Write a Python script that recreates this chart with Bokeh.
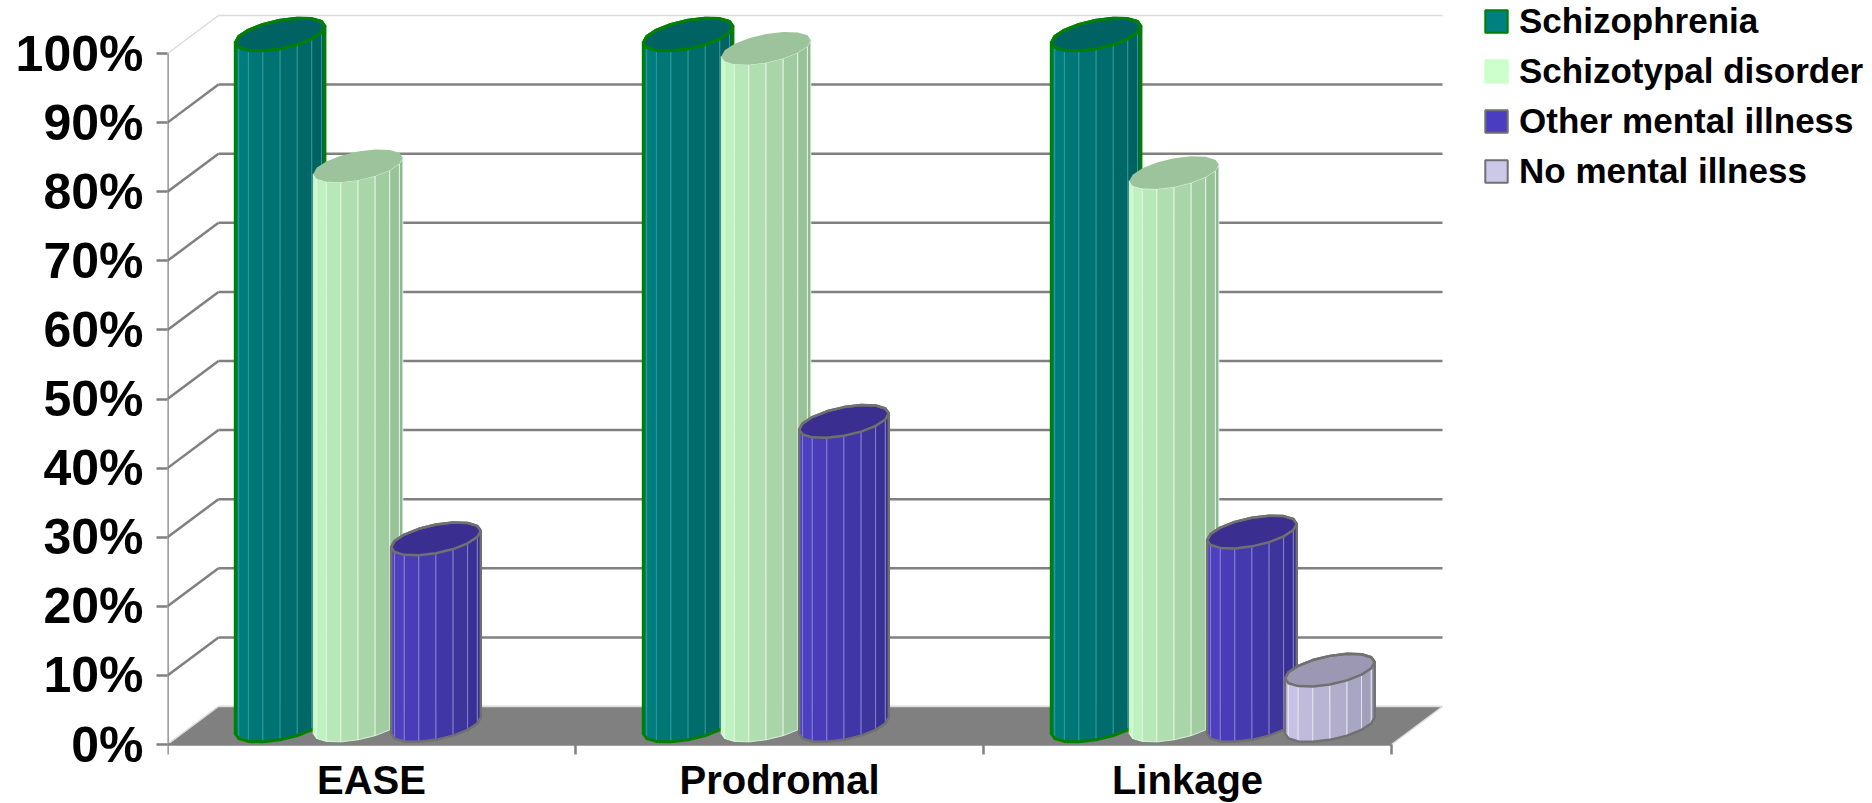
import numpy as np
from bokeh.plotting import figure
from bokeh.models import ColumnDataSource, FixedTicker, Legend, LegendItem, Range1d
from bokeh.core.properties import value
from bokeh.embed import file_html
from bokeh.resources import INLINE

# ---------------- data ----------------
categories = ["EASE", "Prodromal", "Linkage"]
series_names = ["Schizophrenia", "Schizotypal disorder", "Other mental illness", "No mental illness"]
schizophrenia = [100, 100, 100]
schizotypal = [81, 98, 80]
other_illness = [27, 44, 28]
no_illness = [0, 0, 8]
series_values = [schizophrenia, schizotypal, other_illness, no_illness]
y_ticks = [0, 10, 20, 30, 40, 50, 60, 70, 80, 90, 100]
y_tick_labels = ["0%", "10%", "20%", "30%", "40%", "50%", "60%", "70%", "80%", "90%", "100%"]

# ---------------- styles ----------------
styles = [
    dict(light="#008484", dark="#005a5a", top="#006262", stripe="#2f9a9a", outline="#008000", lw=3.0, legend="#008080"),
    dict(light="#ccffcc", dark="#8db48d", top="#9cc39c", stripe="#e2f7e2", outline=None, lw=0, legend="#ccffcc"),
    dict(light="#5344cc", dark="#332c86", top="#3a2f91", stripe="#8a80d8", outline="#707070", lw=2.5, legend="#4b3dc2"),
    dict(light="#d2cdf0", dark="#9794ae", top="#9c98b4", stripe="#e6e4f4", outline="#707070", lw=2.5, legend="#ccc8e8"),
]
GRID = "#808080"
LIGHT_EDGE = "#dadada"
FONT = "Liberation Sans"

W, H = 1872, 803
LEFT = 167
FRONT_BASE = 744   # px from top where 0 % sits
SX = 408.0   # px per category
SY = 6.91    # px per percent

# 3-D geometry (data units)
DEPTH_X = 0.125
DEPTH_Y = 5.5
BAR_STEP = 0.191
RAD_X = 0.0955
DEPTH_FRAC = 0.434
NFACET = 16

p = figure(width=W, height=H,
           x_range=Range1d(0, (W - LEFT) / SX),
           y_range=Range1d(-(H - FRONT_BASE) / SY, FRONT_BASE / SY),
           x_axis_location=None,
           output_backend="svg", toolbar_location=None,
           min_border_left=LEFT, min_border_right=0, min_border_top=0, min_border_bottom=0)
p.outline_line_color = None
p.grid.visible = False
p.background_fill_color = "white"
p.border_fill_color = "white"

ncat = len(categories)

# ---------------- walls & floor ----------------
for v in y_ticks:
    col = LIGHT_EDGE if v in (0, 100) else GRID
    lw = 1.5 if v in (0, 100) else 2.5
    p.line([DEPTH_X, ncat + DEPTH_X], [v + DEPTH_Y, v + DEPTH_Y], line_color=col, line_width=lw)
    p.line([0, DEPTH_X], [v, v + DEPTH_Y], line_color=col, line_width=lw)

p.patch([0, ncat, ncat + DEPTH_X, DEPTH_X], [0, 0, DEPTH_Y, DEPTH_Y], fill_color=GRID, line_color=None)
p.line([0, DEPTH_X, ncat + DEPTH_X, ncat], [0, DEPTH_Y, DEPTH_Y, 0], line_color=LIGHT_EDGE, line_width=1.5)
p.line([0, ncat], [0, 0], line_color=GRID, line_width=2.5)
p.line([0, 0], [0, 100], line_color=GRID, line_width=2.5)

# category boundary ticks and labels
bounds = list(range(ncat + 1))
p.segment(x0=bounds, y0=[0] * len(bounds), x1=bounds, y1=[-10 / SY] * len(bounds),
          line_color=GRID, line_width=2.5)
cat_centers = [i + 0.5 for i in range(ncat)]
p.text(x=cat_centers, y=[-35 / SY] * ncat, text=categories, text_align="center",
       text_baseline="middle", text_font=value(FONT), text_font_style="bold",
       text_font_size="40px", text_color="black")


# ---------------- cylinders ----------------
def hex2rgb(h):
    h = h.lstrip("#")
    return np.array([int(h[i:i + 2], 16) for i in (0, 2, 4)], float)


def mix(c1, c2, f):
    c = hex2rgb(c1) * (1 - f) + hex2rgb(c2) * f
    return "#%02x%02x%02x" % tuple(int(round(x)) for x in c)


PX = DEPTH_FRAC * DEPTH_X
QY = DEPTH_FRAC * DEPTH_Y
phi = np.arctan2(PX, RAD_X)


def ell(cx, cy, t):
    return cx + RAD_X * np.cos(t) + PX * np.sin(t), cy + QY * np.sin(t)


xs, ys, fills, falpha, lcols, lalpha, lws = [], [], [], [], [], [], []


def add(x, y, fill, fa, lc, la, lw):
    xs.append(list(map(float, x))); ys.append(list(map(float, y)))
    fills.append(fill); falpha.append(fa); lcols.append(lc); lalpha.append(la); lws.append(lw)


half = NFACET // 2
for i in range(ncat):
    for j, vals in enumerate(series_values):
        v = vals[i]
        if v <= 0:
            continue
        st = styles[j]
        cx = i + 0.5 + (j - 1.5) * BAR_STEP + DEPTH_X / 2
        y0 = DEPTH_Y / 2
        y1 = v + DEPTH_Y / 2
        tf = phi + np.pi + np.arange(half + 1) * (np.pi / half)
        for k in range(half):
            ta, tb = tf[k], tf[k + 1]
            xa0, ya0 = ell(cx, y0, ta)
            xb0, yb0 = ell(cx, y0, tb)
            xa1, ya1 = ell(cx, y1, ta)
            xb1, yb1 = ell(cx, y1, tb)
            f = (k + 0.5) / half
            add([xa0, xb0, xb1, xa1], [ya0, yb0, yb1, ya1], mix(st["light"], st["dark"], f), 1.0,
                st["stripe"], 0.9, 1.0)
        tt = phi + np.pi + np.arange(NFACET) * (2 * np.pi / NFACET)
        tx, ty = ell(cx, y1, tt)
        has_out = st["outline"] is not None
        add(tx, ty, st["top"], 1.0, st["outline"] or st["top"], 1.0 if has_out else 0.0, st["lw"] or 1)
        if has_out:
            bx, by = ell(cx, y0, tf)
            back = phi + np.arange(half + 1) * (np.pi / half)
            kx, ky = ell(cx, y1, back)
            add(list(bx) + list(kx), list(by) + list(ky), st["top"], 0.0, st["outline"], 1.0, st["lw"])

src = ColumnDataSource(dict(xs=xs, ys=ys, fill=fills, fa=falpha, lc=lcols, la=lalpha, lw=lws))
p.patches("xs", "ys", source=src, fill_color="fill", fill_alpha="fa", line_color="lc",
          line_alpha="la", line_width="lw", line_join="round")

# ---------------- y axis ----------------
ya = p.yaxis[0]
ya.ticker = FixedTicker(ticks=y_ticks)
ya.major_label_overrides = {t: l for t, l in zip(y_ticks, y_tick_labels)}
ya.axis_line_color = None
ya.major_tick_line_color = GRID
ya.major_tick_line_width = 2.5
ya.major_tick_out = 11
ya.major_tick_in = 0
ya.minor_tick_line_color = None
ya.major_label_standoff = 13
ya.major_label_text_font = FONT
ya.major_label_text_font_style = "bold"
ya.major_label_text_font_size = "50px"
ya.major_label_text_color = "black"

# ---------------- legend ----------------
items = []
for name, st in zip(series_names, styles):
    r = p.quad(left=np.array([np.nan]), right=np.array([np.nan]), top=np.array([np.nan]),
               bottom=np.array([np.nan]), fill_color=st["legend"],
               line_color=st["outline"] or st["legend"], line_width=2)
    items.append(LegendItem(label=name, renderers=[r]))
legend = Legend(items=items, location=(1315, 612), glyph_width=28, glyph_height=28,
                label_height=28, spacing=10, padding=0, margin=0, label_standoff=9,
                border_line_color=None, background_fill_alpha=0,
                label_text_font=FONT, label_text_font_style="bold", label_text_font_size="35px",
                label_text_color="black")
p.add_layout(legend)

open("out.html", "w").write(file_html(p, INLINE))
